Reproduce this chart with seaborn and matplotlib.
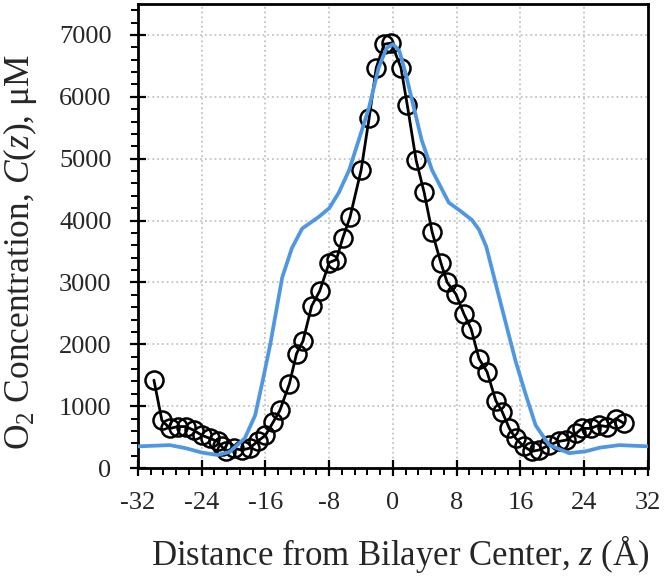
import matplotlib
matplotlib.use("Agg")
import matplotlib.pyplot as plt
import seaborn as sns
from matplotlib.ticker import MultipleLocator

# measured O2 concentration (circles)
z_exp = [-30, -29, -28, -27, -26, -25, -24, -23, -22, -21.5, -21, -20, -19, -18, -17,
         -16, -15, -14.2, -13, -12.1, -11.3, -10.2, -9.2, -8, -7.1, -6.3, -5.4, -4, -3,
         -2.1, -1.1, -0.2, 1, 1.8, 2.9, 3.9, 4.9, 6, 6.8, 7.9, 8.9, 9.8, 10.8, 11.8,
         12.9, 13.7, 14.6, 15.4, 16.4, 17.4, 18.3, 19.6, 20.8, 21.7, 23, 23.7, 24.8,
         25.8, 26.8, 28, 29]
o2_exp = [1420, 770, 640, 670, 670, 610, 530, 480, 430, 350, 270, 320, 290, 320, 430,
          530, 750, 930, 1360, 1850, 2050, 2620, 2860, 3320, 3370, 3720, 4050, 4815, 5650,
          6470, 6850, 6870, 6470, 5860, 4975, 4460, 3820, 3320, 3000, 2810, 2490, 2250,
          1765, 1555, 1090, 910, 640, 480, 350, 270, 290, 370, 430, 450, 560, 640, 640,
          690, 670, 800, 720]

# simulated profile (blue line)
z_sim = [-32, -28, -26, -24, -22, -20.5, -18.6, -17.3, -16.3, -15.4, -13.9, -12.7,
         -11.4, -9.3, -8, -6.8, -5.5, -4.3, -3, -1.8, -0.8, 0, 0.8, 1.6, 2.4, 3.6, 4.9,
         7, 8.5, 9.9, 10.8, 11.7, 13.7, 15.4, 16.7, 17.9, 19.6, 22.1, 24.2, 26, 28.4, 32]
o2_sim = [350, 370, 320, 250, 210, 260, 480, 850, 1440, 2000, 3080, 3550,
          3870, 4060, 4200, 4450, 4815, 5300, 5830, 6470, 6790, 6850, 6740, 6370, 5940,
          5300, 4815, 4290, 4150, 4010, 3850, 3580, 2570, 1720, 1170, 690, 370, 240, 270,
          330, 370, 350]

x_ticks = [-32, -24, -16, -8, 0, 8, 16, 24, 32]

sns.set_style("white")
plt.rcParams["font.family"] = ["Liberation Serif", "DejaVu Serif"]
plt.rcParams["mathtext.fontset"] = "custom"
plt.rcParams["mathtext.rm"] = "Liberation Serif"
plt.rcParams["mathtext.it"] = "Liberation Serif:italic"

fig = plt.figure(figsize=(6.64, 5.77), dpi=100)
ax = fig.add_axes([0.2078, 0.1889, 0.7681, 0.8042])

sns.lineplot(x=z_exp, y=o2_exp, ax=ax, color="black", linewidth=2.0, marker="o",
             markersize=13, markerfacecolor="none", markeredgecolor="black",
             markeredgewidth=1.8, sort=False, zorder=2)
sns.lineplot(x=z_sim, y=o2_sim, ax=ax, color="#5097e2", linewidth=2.7, sort=False, zorder=3)

ax.set_xlim(-32, 32)
ax.set_ylim(0, 7500)
ax.set_xticks(x_ticks)
ax.set_xticklabels([str(t) for t in x_ticks])
ax.yaxis.set_major_locator(MultipleLocator(1000))
ax.xaxis.set_minor_locator(MultipleLocator(1.6))
ax.yaxis.set_minor_locator(MultipleLocator(200))

ax.grid(True, which="major", color="#c4c4c4", linestyle=":", linewidth=1.3)
ax.tick_params(which="major", direction="inout", length=12, width=1.6, labelsize=19,
               color="black")
ax.tick_params(axis="x", which="major", pad=11)
ax.tick_params(axis="y", which="major", pad=13)
ax.tick_params(which="minor", direction="out", length=5, width=1.4, color="black")
ax.tick_params(axis="both", which="both", bottom=True, left=True, top=False, right=False)
for s in ax.spines.values():
    s.set_color("black")
    s.set_linewidth(2.0)

ax.set_xlabel("Distance from Bilayer Center, $\\mathit{z}$ (Å)", fontsize=25)
ax.set_ylabel("O$_2$ Concentration, $\\mathit{C}$($\\mathit{z}$), μM", fontsize=25.5)
ax.xaxis.set_label_coords(0.515, -0.185)
ax.xaxis.label.set_va("center")
ax.yaxis.set_label_coords(-0.232, 0.466)
ax.yaxis.label.set_va("center")

plt.savefig("out.png", dpi=100)
plt.close()
